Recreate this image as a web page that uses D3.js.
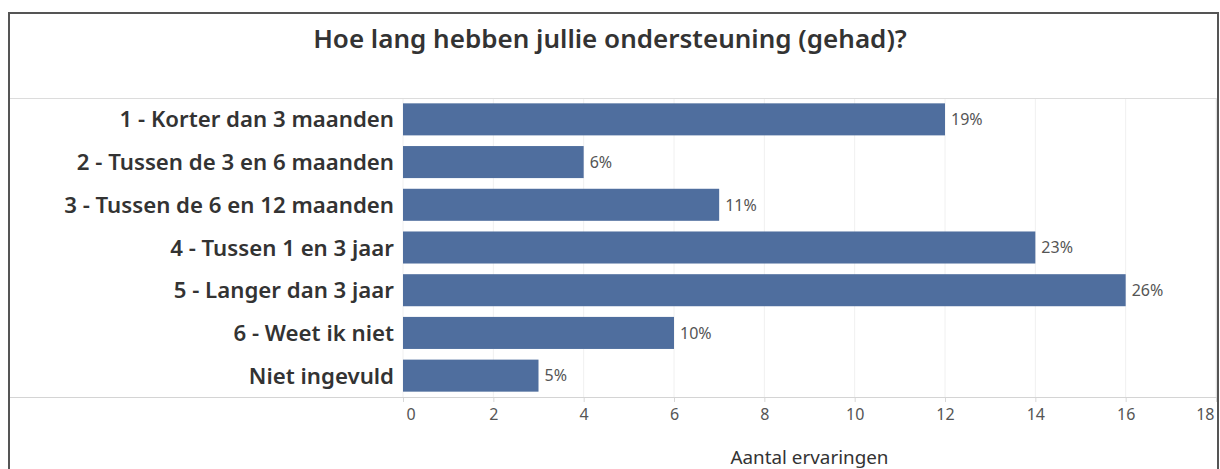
<!DOCTYPE html>
<html>
<head>
<meta charset="utf-8">
<script src="https://cdn.jsdelivr.net/npm/d3@7"></script>
<style>
  html, body { margin: 0; padding: 0; background: #fff; }
  svg { display: block; font-family: "Noto Sans", "Open Sans", sans-serif; }
</style>
</head>
<body>
<svg id="chart" width="1220" height="469"></svg>
<script>
const title = "Hoe lang hebben jullie ondersteuning (gehad)?";
const categories = [
  "1 - Korter dan 3 maanden",
  "2 - Tussen de 3 en 6 maanden",
  "3 - Tussen de 6 en 12 maanden",
  "4 - Tussen 1 en 3 jaar",
  "5 - Langer dan 3 jaar",
  "6 - Weet ik niet",
  "Niet ingevuld"
];
const values = [12, 4, 7, 14, 16, 6, 3];
const tickValues = [0, 2, 4, 6, 8, 10, 12, 14, 16, 18];
const axisTitle = "Aantal ervaringen";

const svg = d3.select("#chart");
const W = 1220, H = 469;
const frame = { left: 9, top: 13, right: 1218 };
const pane = { left: 403, right: 1216, top: 98, bottom: 397 };
const barColor = "#4f6e9e";

const total = d3.sum(values);
const pct = d3.format(".0%");

const x = d3.scaleLinear().domain([0, 18]).range([pane.left, pane.right]);
const y = d3.scaleBand().domain(categories).range([pane.top, pane.bottom])
  .paddingInner(0.25).paddingOuter(0.125);

function fit(sel, target) {
  const w = sel.node().getComputedTextLength();
  const fs = parseFloat(sel.style("font-size"));
  const nfs = fs * target / w;
  sel.style("font-size", nfs + "px");
  return nfs;
}

// Outer frame
svg.append("rect")
  .attr("x", frame.left).attr("y", frame.top)
  .attr("width", frame.right - frame.left).attr("height", H)
  .attr("fill", "#fff").attr("stroke", "#555").attr("stroke-width", 2);

// Title
const t = svg.append("text")
  .attr("x", 610).attr("y", 48)
  .attr("text-anchor", "middle")
  .attr("fill", "#333").attr("font-weight", 600)
  .style("font-size", "22px")
  .text(title);
fit(t, 594);

// Gridlines
svg.append("g").selectAll("line").data(tickValues).join("line")
  .attr("x1", d => x(d)).attr("x2", d => x(d))
  .attr("y1", pane.top).attr("y2", pane.bottom)
  .attr("stroke", "#f0f0f0").attr("stroke-width", 1);

// Header line and pane right border
svg.append("line").attr("x1", frame.left + 1).attr("x2", frame.right - 1)
  .attr("y1", pane.top + 0.5).attr("y2", pane.top + 0.5)
  .attr("stroke", "#dcdcdc");
svg.append("line").attr("x1", pane.right + 0.5).attr("x2", pane.right + 0.5)
  .attr("y1", pane.top).attr("y2", pane.bottom)
  .attr("stroke", "#e2e2e2");

// Bars
svg.append("g").selectAll("rect").data(values).join("rect")
  .attr("x", x(0))
  .attr("y", (d, i) => y(categories[i]))
  .attr("width", d => x(d) - x(0))
  .attr("height", y.bandwidth())
  .attr("fill", barColor);

// Value labels
svg.append("g").selectAll("text").data(values).join("text")
  .attr("x", d => x(d) + 6)
  .attr("y", (d, i) => y(categories[i]) + y.bandwidth() / 2)
  .attr("dy", "0.36em")
  .attr("fill", "#555")
  .style("font-size", "16px")
  .text(d => pct(d / total));

// Category labels
const catG = svg.append("g");
const cats = catG.selectAll("text").data(categories).join("text")
  .attr("x", 394)
  .attr("y", d => y(d) + y.bandwidth() / 2)
  .attr("dy", "0.36em")
  .attr("text-anchor", "end")
  .attr("fill", "#333").attr("font-weight", 600)
  .style("font-size", "18px")
  .text(d => d);
const longest = cats.filter((d, i) => i === 2);
const fs = fit(longest, 330);
cats.style("font-size", fs + "px");

// Axis
const axis = d3.axisBottom(x).tickValues(tickValues).tickSize(5).tickPadding(7);
const ax = svg.append("g").attr("transform", `translate(0,${pane.bottom})`).call(axis);
ax.select(".domain").remove();
ax.selectAll(".tick line").attr("stroke", "#d8d8d8");
ax.selectAll(".tick text")
  .attr("fill", "#555")
  .style("font-size", "16px")
  .style("font-family", "\"Noto Sans\", sans-serif");
ax.selectAll(".tick").filter(d => d === tickValues[0]).select("text")
  .attr("text-anchor", "start").attr("x", 3);
ax.selectAll(".tick").filter(d => d === tickValues[tickValues.length - 1]).select("text")
  .attr("text-anchor", "end").attr("x", -2);

svg.append("line").attr("x1", frame.left + 1).attr("x2", frame.right - 1)
  .attr("y1", pane.bottom + 0.5).attr("y2", pane.bottom + 0.5)
  .attr("stroke", "#d4d4d4");

// Axis title
const at = svg.append("text")
  .attr("x", (pane.left + pane.right) / 2).attr("y", 464)
  .attr("text-anchor", "middle")
  .attr("fill", "#333")
  .style("font-size", "15px")
  .text(axisTitle);
fit(at, 158);
</script>
</body>
</html>
